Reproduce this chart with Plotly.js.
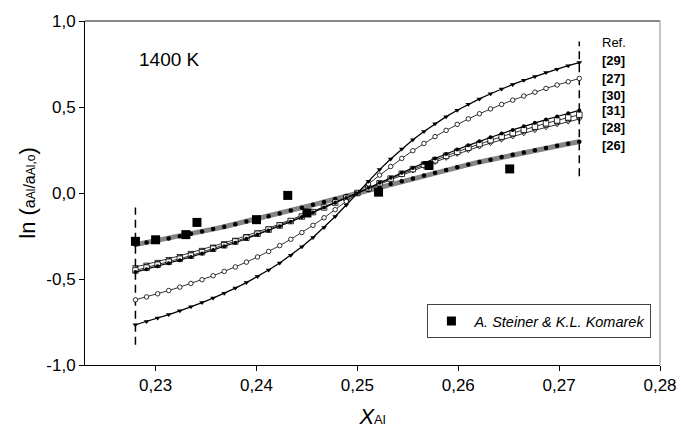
<!DOCTYPE html>
<html>
<head>
<meta charset="utf-8">
<script src="https://cdn.plot.ly/plotly-3.0.1.min.js"></script>
<style>html,body{margin:0;padding:0;background:#fff;}#chart{width:681px;height:430px;}</style>
</head>
<body>
<div id="chart"></div>
<script>
// composition grid of the model curves
const xModel = [0.2280,0.2291,0.2302,0.2313,0.2324,0.2335,0.2346,0.2357,0.2368,0.2379,0.2390,0.2401,0.2412,0.2423,0.2434,0.2445,0.2456,0.2467,0.2478,0.2489,0.2500,0.2511,0.2522,0.2533,0.2544,0.2555,0.2566,0.2577,0.2588,0.2599,0.2610,0.2621,0.2632,0.2643,0.2654,0.2665,0.2676,0.2687,0.2698,0.2709,0.2720];

const ref29 = [-0.766,-0.747,-0.727,-0.707,-0.685,-0.662,-0.637,-0.611,-0.583,-0.553,-0.521,-0.486,-0.448,-0.407,-0.362,-0.313,-0.259,-0.200,-0.137,-0.0695,0,0.069,0.136,0.198,0.256,0.310,0.358,0.403,0.444,0.481,0.516,0.547,0.577,0.605,0.631,0.655,0.678,0.700,0.720,0.740,0.758];
const ref27 = [-0.621,-0.604,-0.586,-0.567,-0.547,-0.526,-0.504,-0.481,-0.456,-0.430,-0.402,-0.372,-0.340,-0.306,-0.269,-0.230,-0.188,-0.144,-0.097,-0.049,0,0.053,0.104,0.154,0.201,0.246,0.288,0.328,0.364,0.399,0.431,0.461,0.489,0.515,0.540,0.564,0.586,0.608,0.628,0.647,0.666];
const ref30 = [-0.460,-0.443,-0.426,-0.409,-0.391,-0.372,-0.352,-0.332,-0.310,-0.289,-0.266,-0.242,-0.218,-0.193,-0.167,-0.140,-0.113,-0.085,-0.057,-0.029,0,0.030,0.060,0.089,0.118,0.146,0.174,0.201,0.227,0.253,0.277,0.301,0.324,0.346,0.367,0.388,0.408,0.427,0.445,0.463,0.480];
const ref31 = [-0.450,-0.434,-0.417,-0.400,-0.382,-0.364,-0.344,-0.324,-0.304,-0.282,-0.260,-0.237,-0.213,-0.189,-0.163,-0.137,-0.111,-0.084,-0.056,-0.028,0,0.028,0.057,0.084,0.112,0.139,0.165,0.191,0.216,0.240,0.263,0.285,0.307,0.328,0.348,0.368,0.386,0.405,0.422,0.439,0.455];
const ref28 = [-0.430,-0.415,-0.399,-0.382,-0.365,-0.347,-0.329,-0.310,-0.290,-0.270,-0.249,-0.227,-0.204,-0.180,-0.156,-0.131,-0.106,-0.080,-0.053,-0.027,0,0.027,0.053,0.080,0.106,0.131,0.156,0.180,0.204,0.227,0.249,0.270,0.290,0.310,0.329,0.347,0.365,0.382,0.399,0.415,0.430];
const ref26 = [-0.300,-0.288,-0.276,-0.264,-0.251,-0.237,-0.224,-0.210,-0.196,-0.181,-0.166,-0.150,-0.135,-0.119,-0.102,-0.086,-0.069,-0.052,-0.035,-0.017,0,0.017,0.034,0.052,0.068,0.085,0.102,0.118,0.134,0.149,0.165,0.180,0.194,0.209,0.222,0.236,0.249,0.262,0.274,0.286,0.298];

// experimental points (A. Steiner & K.L. Komarek)
const xExp = [0.2280,0.2300,0.2330,0.2341,0.2400,0.2431,0.2450,0.2521,0.2571,0.2651];
const yExp = [-0.281,-0.272,-0.242,-0.171,-0.155,-0.014,-0.116,0.005,0.160,0.140];

// composition limits (dashed verticals)
const xLimLow = [0.228, 0.228];
const yLimLow = [-0.882, -0.085];
const xLimHigh = [0.272, 0.272];
const yLimHigh = [0.097, 0.881];

// tick labels
const xTickVals = [0.23,0.24,0.25,0.26,0.27,0.28];
const xTickText = ['0,23','0,24','0,25','0,26','0,27','0,28'];
const yTickVals = [-1,-0.5,0,0.5,1];
const yTickText = ['-1,0','-0,5','0,0','0,5','1,0'];

const refLabels = ['[29]','[27]','[30]','[31]','[28]','[26]'];
const tempLabel = '1400 K';
const expName = 'A. Steiner &amp; K.L. Komarek';

const FONT = 'Arial, "Liberation Sans", sans-serif';

const traces = [
  {x: xLimLow, y: yLimLow, mode:'lines', line:{color:'#000', width:1.5, dash:'8px,5px'}, showlegend:false, hoverinfo:'skip'},
  {x: xLimHigh, y: yLimHigh, mode:'lines', line:{color:'#000', width:1.5, dash:'8px,5px'}, showlegend:false, hoverinfo:'skip'},
  {x: xModel, y: ref26, mode:'lines+markers', name: refLabels[5], line:{color:'#858585', width:5}, marker:{symbol:'circle', size:4.5, color:'#000'}, showlegend:false},
  {x: xModel, y: ref28, mode:'lines+markers', name: refLabels[4], line:{color:'#000', width:0.8}, marker:{symbol:'triangle-down-open', size:5, color:'#000', line:{width:0.8}}, showlegend:false},
  {x: xModel, y: ref31, mode:'lines+markers', name: refLabels[3], line:{color:'#000', width:0.8}, marker:{symbol:'square', size:5.5, color:'#fff', line:{color:'#000', width:0.8}}, showlegend:false},
  {x: xModel, y: ref30, mode:'lines+markers', name: refLabels[2], line:{color:'#000', width:1.2}, marker:{symbol:'circle', size:4, color:'#000'}, showlegend:false},
  {x: xModel, y: ref27, mode:'lines+markers', name: refLabels[1], line:{color:'#000', width:0.8}, marker:{symbol:'circle', size:4.5, color:'#fff', line:{color:'#000', width:0.8}}, showlegend:false},
  {x: xModel, y: ref29, mode:'lines+markers', name: refLabels[0], line:{color:'#000', width:1.3}, marker:{symbol:'triangle-down', size:5, color:'#000'}, showlegend:false},
  {x: xExp, y: yExp, mode:'markers', name: '<i>' + expName + '</i>', marker:{symbol:'square', size:9, color:'#000'}, showlegend:true}
];

const refY = [0.8846, 0.8334, 0.782, 0.7392, 0.6898, 0.6395];
const annotations = [
  {xref:'paper', yref:'paper', x:0.09, y:0.887, xanchor:'left', yanchor:'middle', text: tempLabel, showarrow:false, font:{family:FONT, size:19, color:'#000'}},
  {xref:'paper', yref:'paper', x:0.896, y:0.9375, xanchor:'left', yanchor:'middle', text:'Ref.', showarrow:false, font:{family:FONT, size:13, color:'#000'}}
];
refLabels.forEach((t,i)=>annotations.push({xref:'paper', yref:'paper', x:0.896, y:refY[i], xanchor:'left', yanchor:'middle', text:'<b>'+t+'</b>', showarrow:false, font:{family:FONT, size:13, color:'#000'}}));

const layout = {
  width:681, height:430,
  margin:{l:85, r:21, t:21, b:65},
  paper_bgcolor:'#fff', plot_bgcolor:'#fff',
  font:{family:FONT, color:'#000'},
  xaxis:{
    range:[0.2230, 0.2800], tickmode:'array', tickvals:xTickVals, ticktext:xTickText,
    showgrid:false, zeroline:false, showline:true, linecolor:'#000', linewidth:1,
    ticks:'outside', ticklen:5, tickcolor:'#000', tickfont:{family:FONT, size:17, color:'#000'},
    title:{text:'<i>X</i><span style="font-size:13px">Al</span>', font:{family:FONT, size:22, color:'#000'}, standoff:14}
  },
  yaxis:{
    range:[-1, 1], tickmode:'array', tickvals:yTickVals, ticktext:yTickText,
    showgrid:false, zeroline:false, showline:true, linecolor:'#000', linewidth:1,
    ticks:'outside', ticklen:5, tickcolor:'#000', tickfont:{family:FONT, size:17, color:'#000'},
    title:{text:'ln (<span style="font-size:16px">a</span><span style="font-size:12px">Al</span><span style="font-size:16px">/a</span><span style="font-size:12px">Al,o</span>)', font:{family:FONT, size:22, color:'#000'}, standoff:4}
  },
  shapes:[
    {type:'line', xref:'paper', yref:'paper', x0:0, x1:1, y0:1, y1:1, line:{color:'#888', width:2}},
    {type:'line', xref:'paper', yref:'paper', x0:1, x1:1, y0:0, y1:1, line:{color:'#888', width:1}}
  ],
  annotations: annotations,
  showlegend:true,
  legend:{x:0.5955, y:0.1773, xanchor:'left', yanchor:'top', bgcolor:'#fff', bordercolor:'#444', borderwidth:1, itemwidth:36, font:{family:FONT, size:14.5, color:'#000'}}
};

Plotly.newPlot('chart', traces, layout, {staticPlot:true, displayModeBar:false});
</script>
</body>
</html>
